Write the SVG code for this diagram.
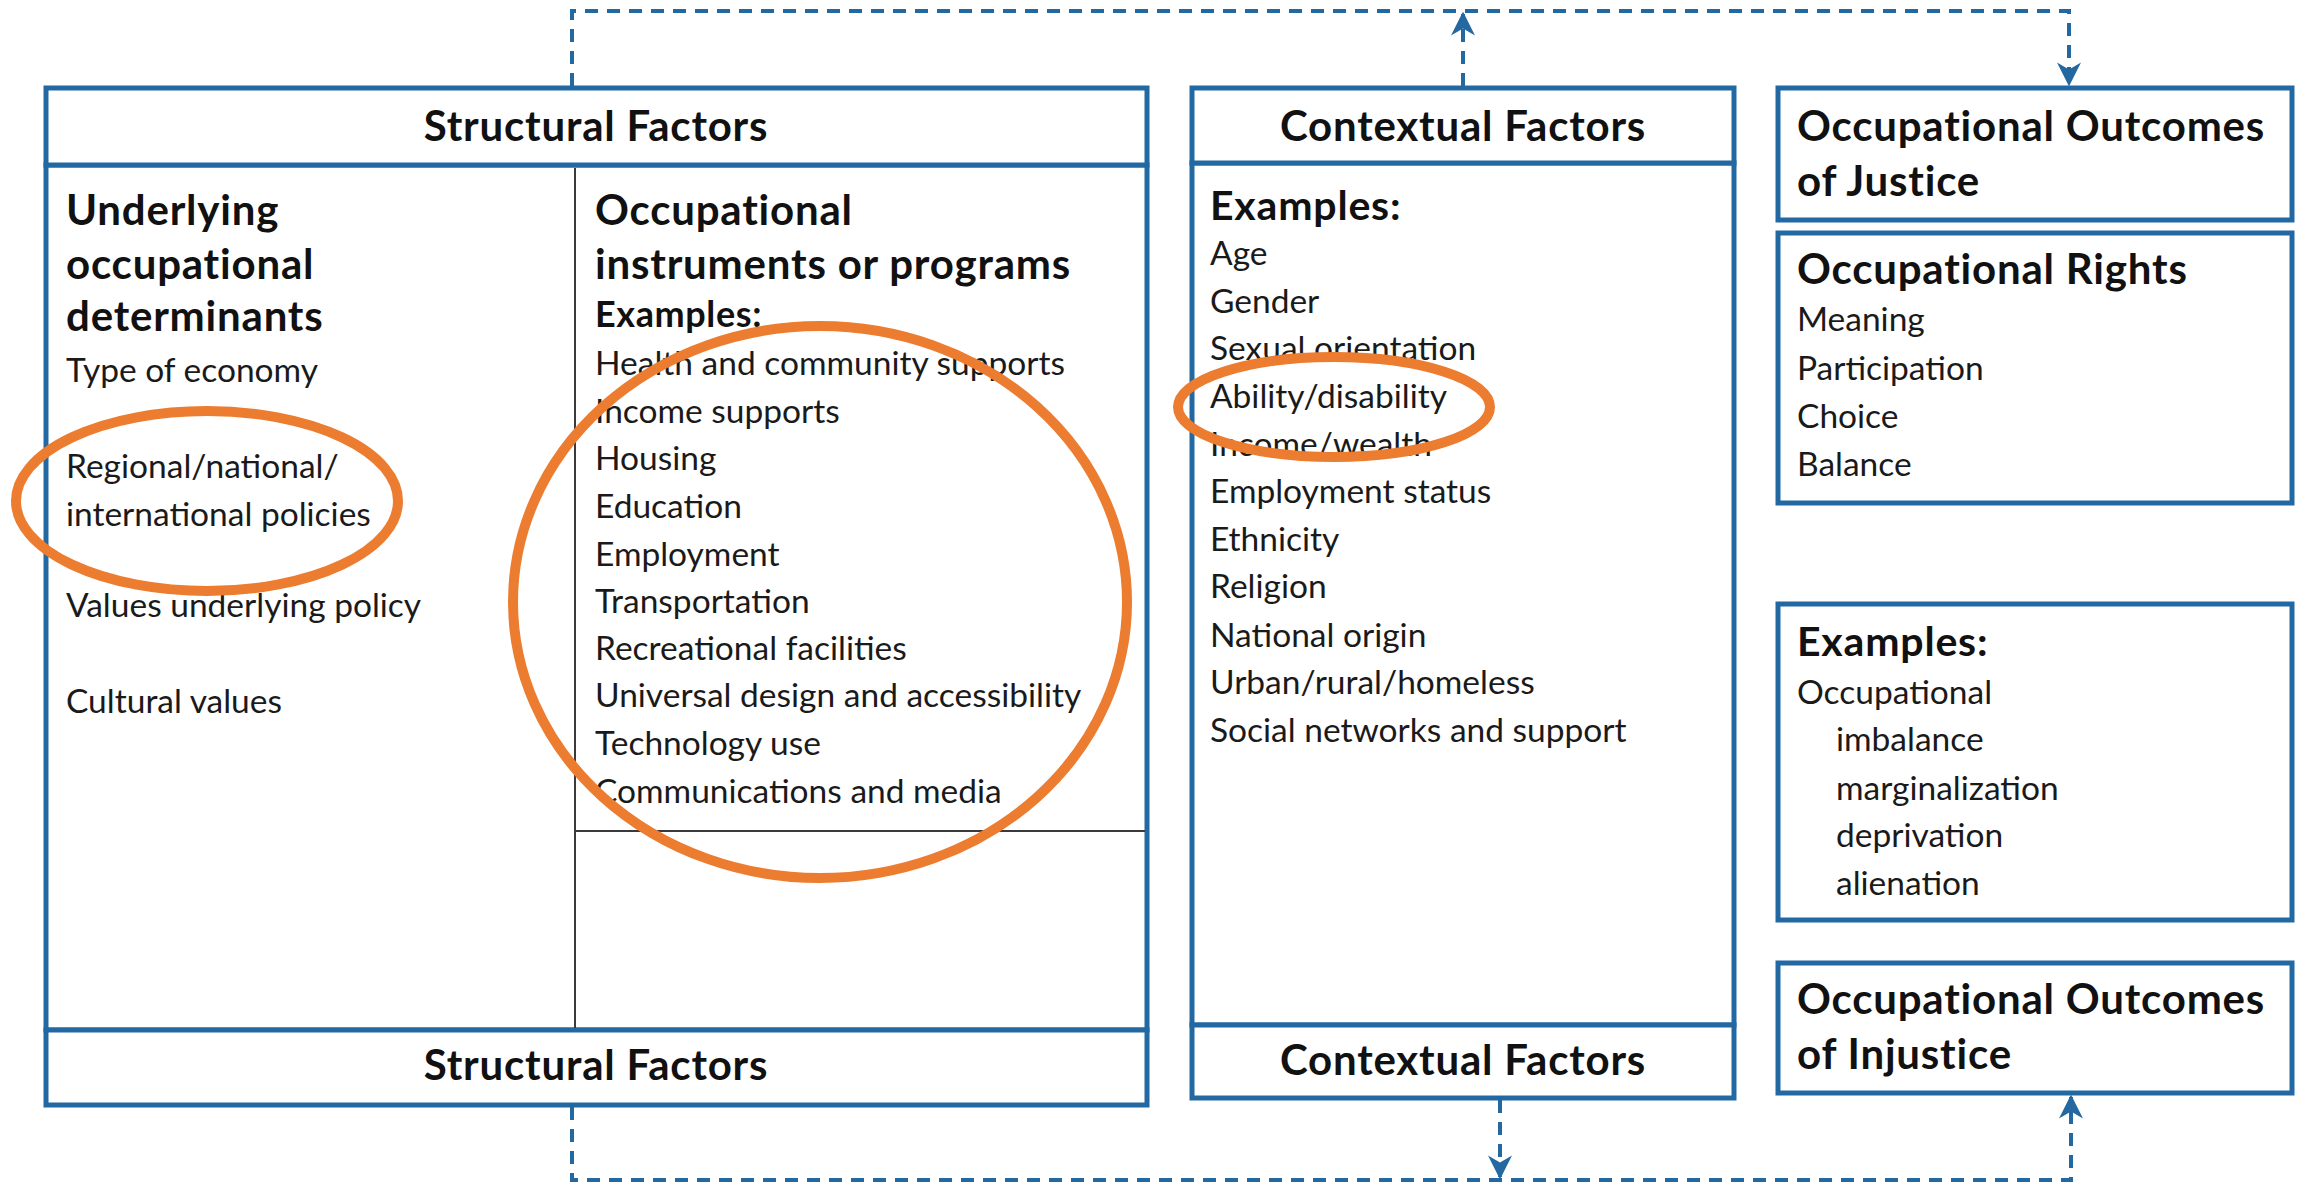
<svg xmlns="http://www.w3.org/2000/svg" width="2305" height="1187" viewBox="0 0 2305 1187">
<style>
.box{fill:#ffffff;stroke:#2268a3;stroke-width:5}
.div{stroke:#3a3a3a;stroke-width:2;fill:none}
.t{font-family:Lato,"Open Sans",sans-serif;font-size:33.5px;fill:#1a1a1a}
.b{font-family:Lato,"Open Sans",sans-serif;font-weight:bold;font-size:42px;letter-spacing:0.8px;fill:#111}
.h{font-family:Lato,"Open Sans",sans-serif;font-weight:bold;font-size:42px;letter-spacing:0.8px;fill:#111;text-anchor:middle}
.e{font-family:Lato,"Open Sans",sans-serif;font-weight:bold;font-size:41px;letter-spacing:0.8px;fill:#111}
.es{font-family:Lato,"Open Sans",sans-serif;font-weight:bold;font-size:36px;letter-spacing:0.6px;fill:#111}
.dash{fill:none;stroke:#2468a2;stroke-width:4;stroke-dasharray:13 9}
.ring{fill:none;stroke:#ec7c30;stroke-width:10}
</style>
<defs>
<marker id="ah" viewBox="0 0 10 10" refX="9" refY="5" markerWidth="6" markerHeight="6" markerUnits="strokeWidth" orient="auto">
<path d="M0,0 L10,5 L0,10 L3,5 z" fill="#2468a2"/>
</marker>
</defs>
<rect width="2305" height="1187" fill="#ffffff"/>

<g id="connectors">
<path class="dash" d="M572,86 V11 H2069 V84" marker-end="url(#ah)"/>
<path class="dash" d="M1463,86 V14" marker-end="url(#ah)"/>
<path class="dash" d="M572,1107 V1180 H2071 V1097" marker-end="url(#ah)"/>
<path class="dash" d="M1500,1100 V1177" marker-end="url(#ah)"/>
</g>

<g id="structural">
<rect class="box" x="46" y="165" width="1101" height="865"/>
<rect class="box" x="46" y="88" width="1101" height="77"/>
<rect class="box" x="46" y="1030" width="1101" height="75"/>
<line class="div" x1="575" y1="168" x2="575" y2="1028"/>
<line class="div" x1="575" y1="831" x2="1145" y2="831"/>
<text class="h" x="596" y="141">Structural Factors</text>
<text class="h" x="596" y="1080">Structural Factors</text>
</g>

<g id="determinants">
<text class="b" x="66" y="225">Underlying</text>
<text class="b" x="66" y="279">occupational</text>
<text class="b" x="66" y="331">determinants</text>
<text class="t" x="66" y="382">Type of economy</text>
<text class="t" x="66" y="478">Regional/national/</text>
<text class="t" x="66" y="526">international policies</text>
<text class="t" x="66" y="617">Values underlying policy</text>
<text class="t" x="66" y="713">Cultural values</text>
</g>

<g id="instruments">
<text class="b" x="595" y="225">Occupational</text>
<text class="b" x="595" y="279">instruments or programs</text>
<text class="es" x="595" y="327">Examples:</text>
<text class="t" x="595" y="375">Health and community supports</text>
<text class="t" x="595" y="423">Income supports</text>
<text class="t" x="595" y="470">Housing</text>
<text class="t" x="595" y="518">Education</text>
<text class="t" x="595" y="566">Employment</text>
<text class="t" x="595" y="613">Transportation</text>
<text class="t" x="595" y="660">Recreational facilities</text>
<text class="t" x="595" y="707">Universal design and accessibility</text>
<text class="t" x="595" y="755">Technology use</text>
<text class="t" x="595" y="803">Communications and media</text>
</g>

<g id="contextual">
<rect class="box" x="1192" y="163" width="542" height="862"/>
<rect class="box" x="1192" y="88" width="542" height="75"/>
<rect class="box" x="1192" y="1025" width="542" height="73"/>
<text class="h" x="1463" y="141">Contextual Factors</text>
<text class="h" x="1463" y="1075">Contextual Factors</text>
<text class="e" x="1210" y="220">Examples:</text>
<text class="t" x="1210" y="265">Age</text>
<text class="t" x="1210" y="313">Gender</text>
<text class="t" x="1210" y="360">Sexual orientation</text>
<text class="t" x="1210" y="408">Ability/disability</text>
<text class="t" x="1210" y="456">Income/wealth</text>
<text class="t" x="1210" y="503">Employment status</text>
<text class="t" x="1210" y="551">Ethnicity</text>
<text class="t" x="1210" y="598">Religion</text>
<text class="t" x="1210" y="647">National origin</text>
<text class="t" x="1210" y="694">Urban/rural/homeless</text>
<text class="t" x="1210" y="742">Social networks and support</text>
</g>

<g id="justice">
<rect class="box" x="1778" y="88" width="514" height="132"/>
<text class="b" x="1797" y="141">Occupational Outcomes</text>
<text class="b" x="1797" y="196">of Justice</text>
</g>

<g id="rights">
<rect class="box" x="1778" y="233" width="514" height="270"/>
<text class="b" x="1797" y="284">Occupational Rights</text>
<text class="t" x="1797" y="331">Meaning</text>
<text class="t" x="1797" y="380">Participation</text>
<text class="t" x="1797" y="428">Choice</text>
<text class="t" x="1797" y="476">Balance</text>
</g>

<g id="injustice-examples">
<rect class="box" x="1778" y="604" width="514" height="316"/>
<text class="e" x="1797" y="656">Examples:</text>
<text class="t" x="1797" y="704">Occupational</text>
<text class="t" x="1836" y="751">imbalance</text>
<text class="t" x="1836" y="800">marginalization</text>
<text class="t" x="1836" y="847">deprivation</text>
<text class="t" x="1836" y="895">alienation</text>
</g>

<g id="injustice">
<rect class="box" x="1778" y="963" width="514" height="130"/>
<text class="b" x="1797" y="1014">Occupational Outcomes</text>
<text class="b" x="1797" y="1069">of Injustice</text>
</g>

<g id="highlights">
<ellipse class="ring" cx="207" cy="501" rx="191" ry="90"/>
<ellipse class="ring" cx="820" cy="602" rx="307" ry="276"/>
<ellipse class="ring" cx="1334" cy="407" rx="156" ry="50"/>
</g>
</svg>
